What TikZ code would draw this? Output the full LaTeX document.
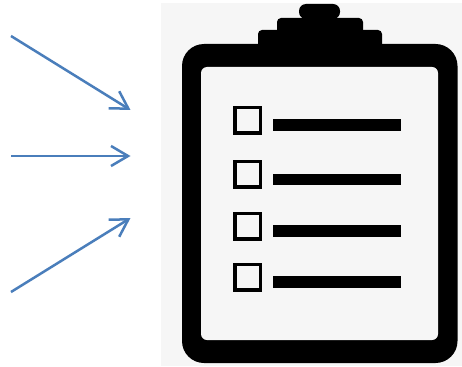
\documentclass[tikz,border=0pt]{standalone}
\usetikzlibrary{arrows.meta}
\definecolor{arrowblue}{HTML}{4A7EBB}
\definecolor{paper}{HTML}{F6F6F6}
\tikzset{
  flow/.style={draw=arrowblue,line width=2.5pt,-{Straight Barb[length=17pt,width=20pt,line width=2.5pt]}},
  boardink/.style={fill=black,draw=none},
  tickbox/.style={draw=black,line width=3.4pt,fill=paper},
  itemline/.style={fill=black,draw=none}
}
\begin{document}
\begin{tikzpicture}[x=1pt,y=-1pt]
\useasboundingbox (0,0) rectangle (462,366);
\fill[white] (0,0) rectangle (462,366);
\fill[paper] (161,3) rectangle (462,366);
% clip at the top
\fill[boardink,rounded corners=7pt] (299,19) -- (299,4) -- (340,4) -- (340,19) -- cycle;
\fill[boardink,rounded corners=4pt] (277,50) -- (277,18) -- (363,18) -- (363,50) -- cycle;
\fill[boardink,rounded corners=4pt] (258,50) -- (258,30) -- (382,30) -- (382,50) -- cycle;
% board
\fill[boardink,rounded corners=22pt] (182,44) rectangle (457.5,363);
\fill[paper,rounded corners=6pt] (201,67) rectangle (438,340);
% items
\foreach \t/\b/\lt/\lb in {107.5/133/119.5/131, 161.5/187/173.5/185, 213.5/239/225/237, 264.5/290/276/287.5}{
  \draw[tickbox] (234.8,\t) rectangle (260.2,\b);
  \fill[itemline] (273,\lt) rectangle (401,\lb);
}
% arrows
\coordinate (a1s) at (11,36);
\coordinate (a1e) at (130.5,110);
\coordinate (a2s) at (11,156);
\coordinate (a2e) at (130.5,156);
\coordinate (a3s) at (11,292);
\coordinate (a3e) at (130.5,218);
\draw[flow] (a1s) -- (a1e);
\draw[flow] (a2s) -- (a2e);
\draw[flow] (a3s) -- (a3e);
\end{tikzpicture}
\end{document}
